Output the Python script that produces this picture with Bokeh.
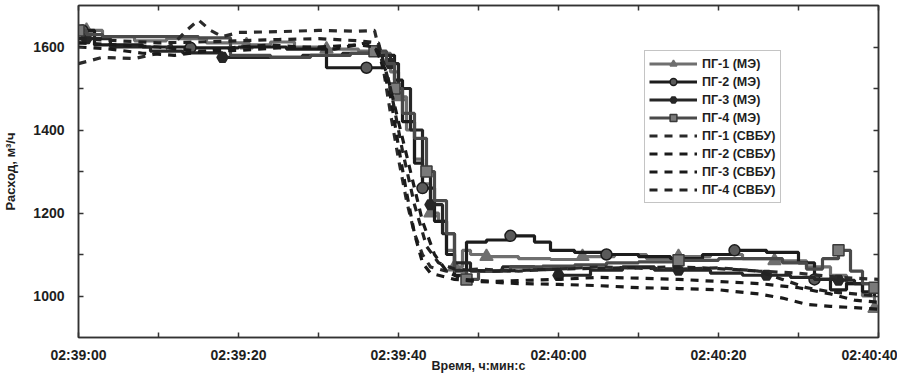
from bokeh.plotting import figure
from bokeh.models import FixedTicker, LinearAxis, Legend, LegendItem, Range1d
from bokeh.embed import file_html
from bokeh.resources import INLINE

# ---- data (time in seconds from 02:39:00, flow in m3/h) ----
x_ticks = [0, 20, 40, 60, 80, 100]
x_tick_labels = ["02:39:00", "02:39:20", "02:39:40", "02:40:00", "02:40:20", "02:40:40"]
x_minor = [10, 30, 50, 70, 90]
y_ticks = [1000, 1200, 1400, 1600]
y_minor = [1100, 1300, 1500]

# ПГ-1 (МЭ)
t_me1 = [0, 1, 3, 7, 11, 16, 21, 24, 27, 31, 35, 37.5, 39, 40, 41, 42, 43, 44, 45, 46, 47, 48, 49,
         51, 55, 59, 63, 67, 71, 75, 79, 83, 87, 91, 94, 96, 98, 99.5]
v_me1 = [1630, 1640, 1625, 1615, 1620, 1610, 1605, 1612, 1600, 1595, 1590, 1585, 1540, 1480, 1400,
         1330, 1270, 1200, 1180, 1110, 1070, 1110, 1100, 1095, 1090, 1088, 1095, 1100, 1090, 1095,
         1100, 1090, 1085, 1070, 1050, 1030, 1000, 970]
m_me1 = [1, 6, 9, 13, 17, 20, 23, 26, 29, 32, 37]

# ПГ-2 (МЭ)
t_me2 = [0, 0.5, 2, 8, 14, 20, 26, 31, 36, 38, 39.5, 40.5, 42, 43, 44.5, 46, 47, 48.5, 51, 54, 57,
         59, 62, 66, 70, 74, 78, 82, 86, 90, 92, 94, 96, 98, 99.5]
v_me2 = [1620, 1640, 1605, 1600, 1598, 1600, 1595, 1550, 1550, 1580, 1520, 1420, 1320, 1260, 1180,
         1100, 1050, 1130, 1135, 1145, 1130, 1110, 1105, 1100, 1095, 1090, 1100, 1110, 1105, 1080,
         1040, 1015, 1030, 1010, 1000]
m_me2 = [1, 4, 8, 13, 19, 23, 27, 30]

# ПГ-3 (МЭ)
t_me3 = [0, 1, 4, 9, 13, 18, 23, 28, 33, 37, 39, 40, 41.5, 43, 44, 45.5, 47, 49, 53, 57, 60, 64,
         68, 72, 75, 79, 83, 86, 89, 92, 95, 97, 99.5]
v_me3 = [1610, 1620, 1600, 1590, 1586, 1575, 1575, 1580, 1585, 1580, 1560, 1500, 1400, 1300, 1220,
         1150, 1080, 1060, 1070, 1065, 1050, 1062, 1070, 1062, 1062, 1055, 1050, 1050, 1045, 1040,
         1038, 1030, 1020]
m_me3 = [1, 5, 10, 14, 20, 24, 27, 30]

# ПГ-4 (МЭ)
t_me4 = [0, 1, 3, 9, 15, 19, 24, 29, 34, 37, 38.5, 39.5, 40.5, 42, 43.5, 44.5, 46, 47, 48.5, 50,
         54, 58, 62, 66, 70, 75, 80, 84, 88, 91, 93, 95, 96.5, 98, 99.5]
v_me4 = [1640, 1630, 1625, 1625, 1622, 1580, 1575, 1580, 1585, 1590, 1560, 1500, 1440, 1380, 1300,
         1230, 1150, 1060, 1040, 1060, 1070, 1072, 1075, 1080, 1082, 1086, 1090, 1090, 1080, 1065,
         1090, 1110, 1060, 1030, 1020]
m_me4 = [0, 9, 11, 14, 18, 25, 31, 34]

# ПГ-1 (СВБУ)
t_sv1 = [0, 3, 7, 10, 12, 13.5, 15, 16.5, 18, 20, 25, 30, 35, 37, 38, 39, 40, 41, 42, 43, 44, 46,
         50, 55, 60, 65, 70, 75, 80, 85, 90, 95, 100]
v_sv1 = [1560, 1575, 1572, 1585, 1610, 1640, 1665, 1640, 1625, 1635, 1637, 1640, 1638, 1640, 1560,
         1440, 1330, 1230, 1150, 1100, 1070, 1060, 1065, 1060, 1065, 1070, 1067, 1065, 1068, 1060,
         1055, 1045, 1040]

# ПГ-2 (СВБУ)
t_sv2 = [0, 4, 8, 12, 16, 20, 24, 28, 32, 36, 37.5, 39, 40, 41, 42, 43, 44, 45, 47, 50, 55, 60,
         65, 70, 75, 80, 85, 88, 91, 94, 97, 100]
v_sv2 = [1600, 1595, 1585, 1580, 1590, 1600, 1605, 1600, 1595, 1610, 1590, 1480, 1360, 1250,
         1150, 1080, 1055, 1050, 1040, 1035, 1030, 1028, 1025, 1020, 1018, 1015, 1005, 995, 980,
         975, 972, 968]

# ПГ-3 (СВБУ)
t_sv3 = [0, 5, 10, 15, 20, 25, 30, 35, 37, 38.5, 40, 41.5, 43, 44.5, 46, 48, 52, 56, 60, 65, 70,
         75, 80, 85, 90, 94, 97, 100]
v_sv3 = [1610, 1605, 1600, 1590, 1592, 1598, 1600, 1605, 1600, 1540, 1420, 1300, 1180, 1100,
         1060, 1040, 1035, 1038, 1040, 1045, 1043, 1040, 1035, 1030, 1020, 1005, 990, 985]

# ПГ-4 (СВБУ)
t_sv4 = [0, 5, 10, 15, 20, 25, 30, 35, 37.5, 39, 40.5, 42, 43.5, 45, 47, 49, 52, 56, 60, 65, 70,
         75, 80, 85, 88, 91, 94, 97, 100]
v_sv4 = [1620, 1615, 1610, 1612, 1615, 1618, 1620, 1615, 1610, 1500, 1350, 1220, 1120, 1080,
         1065, 1062, 1060, 1062, 1065, 1067, 1068, 1070, 1066, 1060, 1040, 1020, 1010, 1005, 1000]

series_me = [
    ("ПГ-1 (МЭ)", t_me1, v_me1, m_me1, "#6f6f6f", "triangle", "#6f6f6f", "#6f6f6f", 13),
    ("ПГ-2 (МЭ)", t_me2, v_me2, m_me2, "#1c1c1c", "circle", "#5a5a5a", "#1c1c1c", 11),
    ("ПГ-3 (МЭ)", t_me3, v_me3, m_me3, "#262626", "hex", "#262626", "#262626", 11),
    ("ПГ-4 (МЭ)", t_me4, v_me4, m_me4, "#4a4a4a", "square", "#7a7a7a", "#3a3a3a", 11),
]
series_sv = [
    ("ПГ-1 (СВБУ)", t_sv1, v_sv1, "#2a2a2a"),
    ("ПГ-2 (СВБУ)", t_sv2, v_sv2, "#1a1a1a"),
    ("ПГ-3 (СВБУ)", t_sv3, v_sv3, "#1a1a1a"),
    ("ПГ-4 (СВБУ)", t_sv4, v_sv4, "#222222"),
]

FONT = "Liberation Sans"

p = figure(width=897, height=375, output_backend="svg", toolbar_location=None,
           x_range=Range1d(0, 100), y_range=Range1d(900, 1700),
           min_border_left=74, min_border_top=5, min_border_right=19, min_border_bottom=36,
           x_axis_type=None, y_axis_type=None)
p.background_fill_color = "white"
p.border_fill_color = "white"
p.outline_line_color = "#333333"
p.outline_line_width = 1.5

xticker = FixedTicker(ticks=x_ticks, minor_ticks=x_minor)
yticker = FixedTicker(ticks=y_ticks, minor_ticks=y_minor)


def style_axis(ax, labels=True):
    ax.axis_line_color = "#333333"
    ax.axis_line_width = 1.5
    ax.major_tick_in = 5
    ax.major_tick_out = 0
    ax.minor_tick_in = 5
    ax.minor_tick_out = 0
    ax.major_tick_line_color = "#333333"
    ax.minor_tick_line_color = "#333333"
    ax.major_tick_line_width = 1.5
    ax.minor_tick_line_width = 1.5
    ax.major_label_text_font = FONT
    ax.major_label_text_font_style = "bold"
    ax.major_label_text_font_size = "14px"
    ax.major_label_text_color = "#1e1e1e"
    ax.axis_label_text_font = FONT
    ax.axis_label_text_font_style = "bold"
    ax.axis_label_text_color = "#1e1e1e"
    if not labels:
        ax.major_label_text_font_size = "0px"
        ax.major_label_text_alpha = 0
        ax.major_label_standoff = 0


xb = LinearAxis(ticker=xticker, axis_label="Время, ч:мин:с")
xb.major_label_overrides = dict(zip(x_ticks, x_tick_labels))
style_axis(xb)
xb.major_label_standoff = 9
xb.axis_label_standoff = -7
xb.axis_label_text_font_size = "12.5px"
p.add_layout(xb, "below")

yl = LinearAxis(ticker=yticker, axis_label="Расход, м³/ч")
style_axis(yl)
yl.major_label_standoff = 14
yl.axis_label_standoff = 12
yl.axis_label_text_font_size = "13px"
p.add_layout(yl, "left")

xt = LinearAxis(ticker=xticker)
style_axis(xt, labels=False)
p.add_layout(xt, "above")
yr = LinearAxis(ticker=yticker)
style_axis(yr, labels=False)
p.add_layout(yr, "right")

p.xgrid.ticker = xticker
p.ygrid.ticker = yticker
p.xgrid.grid_line_color = "#9a9a9a"
p.ygrid.grid_line_color = "#9a9a9a"
p.xgrid.grid_line_dash = "1 2"
p.ygrid.grid_line_dash = "1 2"
p.xgrid.grid_line_width = 1.2
p.ygrid.grid_line_width = 1.2

items = []
for name, t, v, midx, col, mk, mfill, mline, msz in series_me:
    r_line = p.step(t, v, mode="after", line_color=col, line_width=3.2)
    r_mk = p.scatter([t[i] for i in midx], [v[i] for i in midx], marker=mk, size=msz,
                     fill_color=mfill, line_color=mline, line_width=1.5)
    items.append(LegendItem(label=name, renderers=[r_line, r_mk]))

for name, t, v, col in series_sv:
    r = p.line(t, v, line_color=col, line_width=3.2, line_dash="8 7")
    items.append(LegendItem(label=name, renderers=[r]))

leg = Legend(items=items, location=(566, 134))
leg.label_text_font = FONT
leg.label_text_font_style = "bold"
leg.label_text_font_size = "12.5px"
leg.label_text_color = "#1e1e1e"
leg.label_height = 17
leg.glyph_height = 17
leg.glyph_width = 48
leg.spacing = 1
leg.padding = 4
leg.margin = 0
leg.border_line_color = "#8a8a8a"
leg.border_line_width = 1.5
leg.background_fill_alpha = 1.0
p.add_layout(leg, "center")

open("out.html", "w").write(file_html(p, INLINE))
